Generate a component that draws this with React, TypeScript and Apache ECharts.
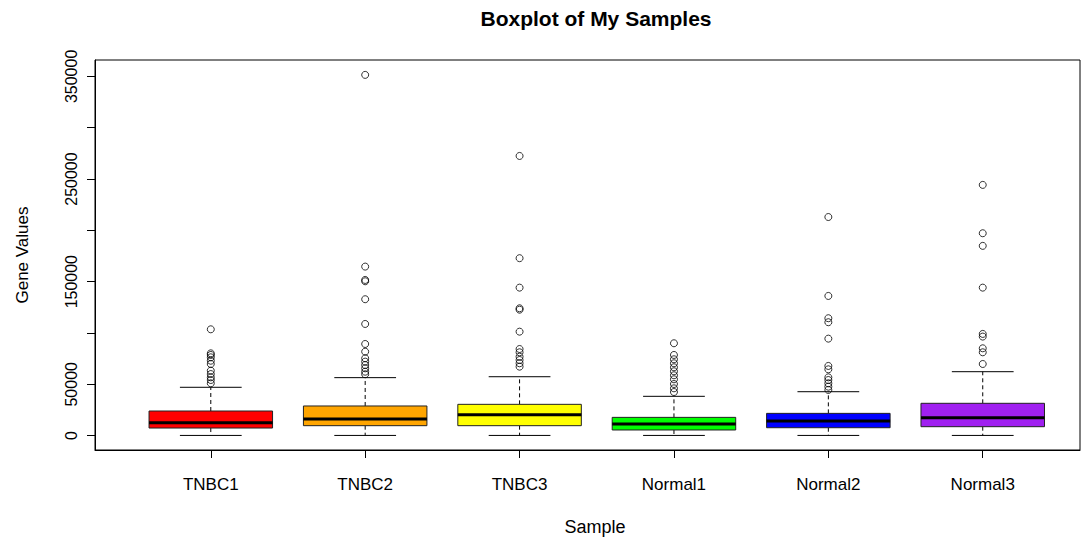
import React, { useEffect, useRef } from "react";
import * as echarts from "echarts";

const categories = ["TNBC1", "TNBC2", "TNBC3", "Normal1", "Normal2", "Normal3"];
const boxColors = ["#FF0000", "#FFA500", "#FFFF00", "#00FF00", "#0000FF", "#A020F0"];
const whiskerLow = [200, 200, 200, 200, 200, 200];
const quartile1 = [7400, 9700, 9700, 5500, 7700, 8700];
const medians = [12600, 16200, 20400, 11300, 14200, 17500];
const quartile3 = [24000, 28900, 30500, 17800, 21700, 31500];
const whiskerHigh = [47100, 56500, 57400, 38300, 42800, 62300];

const outliersTNBC1 = [103600, 80200, 78600, 76300, 73000, 69800, 63300, 60000, 56800, 54200, 51000];
const outliersTNBC2 = [351500, 164700, 151700, 150400, 132900, 108800, 89300, 81800, 75400, 72100, 68800, 65600, 62300, 59800];
const outliersTNBC3 = [272500, 172900, 144200, 124100, 122700, 101300, 84400, 81200, 76900, 73700, 70500, 67200];
const outliersNormal1 = [90000, 78600, 74400, 70500, 66600, 62700, 58800, 54900, 50300, 46100, 42500];
const outliersNormal2 = [213000, 136100, 114400, 110500, 94500, 67900, 64600, 56800, 54200, 51000, 47700, 44500];
const outliersNormal3 = [244300, 197200, 184900, 144200, 99100, 96500, 85100, 81200, 69800];
const outlierGroups = [outliersTNBC1, outliersTNBC2, outliersTNBC3, outliersNormal1, outliersNormal2, outliersNormal3];

const yTickValues = [0, 50000, 100000, 150000, 200000, 250000, 300000, 350000];
const yLabelValues = [0, 50000, 150000, 250000, 350000];
const xTickValues = [1, 2, 3, 4, 5, 6];

const FONT = "'Liberation Sans', Arial, sans-serif";

export default function App() {
  const ref = useRef<HTMLDivElement>(null);

  useEffect(() => {
    if (!ref.current) return;
    const chart = echarts.init(ref.current, null, { renderer: "svg" });

    const boxData = categories.map((_, i) => [
      i + 1,
      whiskerLow[i],
      quartile1[i],
      medians[i],
      quartile3[i],
      whiskerHigh[i],
    ]);
    const outlierData: number[][] = [];
    outlierGroups.forEach((g, i) => g.forEach((v) => outlierData.push([i + 1, v])));

    const dash = { stroke: "#000", lineWidth: 1, lineDash: [4, 3] };
    const solid = { stroke: "#000", lineWidth: 1 };

    chart.setOption({
      animation: false,
      backgroundColor: "#fff",
      grid: {
        left: 95,
        right: 2,
        top: 60,
        bottom: 87,
        show: true,
        borderColor: "#000",
        borderWidth: 1,
        backgroundColor: "transparent",
      },
      xAxis: {
        type: "value",
        min: 0.25,
        max: 6.63,
        splitLine: { show: false },
        axisLine: { show: true, onZero: false, lineStyle: { color: "#000", width: 1 } },
        axisTick: {
          show: true,
          length: 8,
          customValues: xTickValues,
          lineStyle: { color: "#000" },
        },
        axisLabel: {
          customValues: xTickValues,
          formatter: (v: number) => categories[Math.round(v) - 1] ?? "",
          color: "#000",
          fontSize: 17,
          fontFamily: FONT,
          margin: 26,
        },
      },
      yAxis: {
        type: "value",
        min: -14000,
        max: 366000,
        splitLine: { show: false },
        axisLine: { show: true, onZero: false, lineStyle: { color: "#000", width: 1 } },
        axisTick: {
          show: true,
          length: 8,
          customValues: yTickValues,
          lineStyle: { color: "#000" },
        },
        axisLabel: {
          customValues: yLabelValues,
          formatter: (v: number) => String(v),
          rotate: 90,
          color: "#000",
          fontSize: 16,
          fontFamily: FONT,
          margin: 16,
        },
      },
      graphic: [
        {
          type: "text",
          x: 596,
          y: 18,
          style: {
            text: "Boxplot of My Samples",
            fill: "#000",
            font: `bold 21px ${FONT}`,
            textAlign: "center",
            textVerticalAlign: "middle",
          },
        },
        {
          type: "text",
          x: 595,
          y: 527,
          style: {
            text: "Sample",
            fill: "#000",
            font: `18px ${FONT}`,
            textAlign: "center",
            textVerticalAlign: "middle",
          },
        },
        {
          type: "text",
          x: 22,
          y: 255,
          rotation: Math.PI / 2,
          style: {
            text: "Gene Values",
            fill: "#000",
            font: `17px ${FONT}`,
            textAlign: "center",
            textVerticalAlign: "middle",
          },
        },
      ],
      series: [
        {
          type: "custom",
          data: boxData,
          encode: { x: 0, y: [1, 2, 3, 4, 5] },
          z: 2,
          renderItem: (params: any, api: any) => {
            const x = api.value(0);
            const lo = api.coord([x, api.value(1)]);
            const b1 = api.coord([x, api.value(2)]);
            const md = api.coord([x, api.value(3)]);
            const b3 = api.coord([x, api.value(4)]);
            const hi = api.coord([x, api.value(5)]);
            const left = api.coord([x - 0.4, 0])[0];
            const right = api.coord([x + 0.4, 0])[0];
            const sl = api.coord([x - 0.2, 0])[0];
            const sr = api.coord([x + 0.2, 0])[0];
            const cx = lo[0];
            return {
              type: "group",
              children: [
                { type: "line", shape: { x1: cx, y1: b3[1], x2: cx, y2: hi[1] }, style: dash },
                { type: "line", shape: { x1: cx, y1: b1[1], x2: cx, y2: lo[1] }, style: dash },
                { type: "line", shape: { x1: sl, y1: hi[1], x2: sr, y2: hi[1] }, style: solid },
                { type: "line", shape: { x1: sl, y1: lo[1], x2: sr, y2: lo[1] }, style: solid },
                {
                  type: "rect",
                  shape: { x: left, y: b3[1], width: right - left, height: b1[1] - b3[1] },
                  style: { fill: boxColors[params.dataIndex], stroke: "#222", lineWidth: 1 },
                },
                {
                  type: "line",
                  shape: { x1: left, y1: md[1], x2: right, y2: md[1] },
                  style: { stroke: "#000", lineWidth: 3 },
                },
              ],
            };
          },
        },
        {
          type: "scatter",
          data: outlierData,
          symbol: "circle",
          symbolSize: 7,
          z: 3,
          itemStyle: { color: "rgba(0,0,0,0)", borderColor: "#000", borderWidth: 1 },
        },
      ],
    });

    return () => chart.dispose();
  }, []);

  return (
    <div
      ref={ref}
      style={{ position: "fixed", left: 0, top: 0, width: 1082, height: 537 }}
    />
  );
}
